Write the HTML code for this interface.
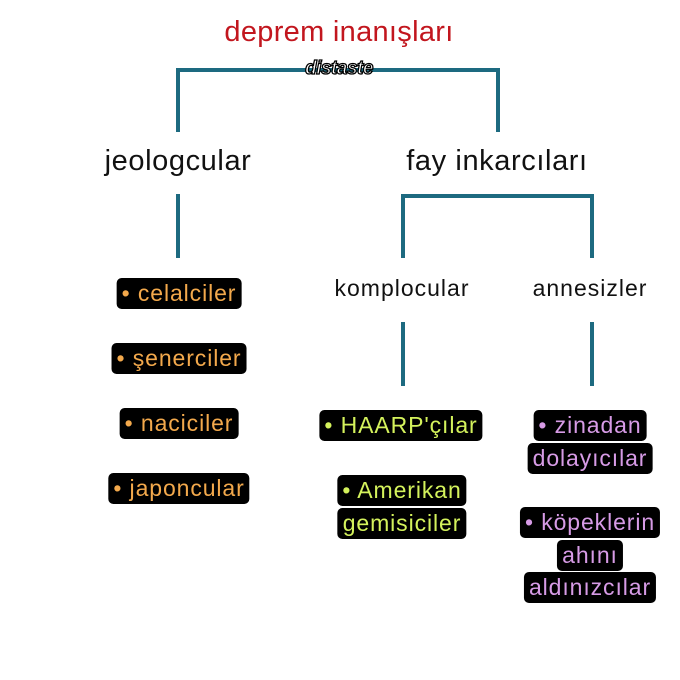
<!DOCTYPE html>
<html><head><meta charset="utf-8"><style>
html,body{margin:0;padding:0;background:#fff;}
body{width:680px;height:680px;position:relative;overflow:hidden;font-family:"Liberation Sans",sans-serif;}
.t{position:absolute;white-space:nowrap;transform:translateX(-50%);color:#111;}
.l{position:absolute;background:#1d6a80;}
.lab{position:absolute;transform:translateX(-50%);text-align:center;font-size:23px;letter-spacing:0.9px;}
.lab div{height:32.5px;}
.lab span{display:inline-block;background:#000;border-radius:5px;padding:0 5px;line-height:31px;height:31px;white-space:nowrap;}
.o span{color:#f3a94c}.g span{color:#d4f25c}.p span{color:#d79be6}
</style></head><body>
<div class="t" style="left:339px;top:16px;font-size:29px;letter-spacing:0.3px;color:#c2161e;">deprem inanışları</div>
<div class="l" style="left:176px;top:68px;width:324px;height:4px"></div>
<div class="l" style="left:176px;top:68px;width:4px;height:64px"></div>
<div class="l" style="left:496px;top:68px;width:4px;height:64px"></div>
<div class="t" style="left:339px;top:58px;font-size:19px;font-style:italic;font-weight:bold;color:#fff;-webkit-text-stroke:1.3px #000;letter-spacing:-0.5px;">distaste</div>
<div class="t" style="left:178px;top:145px;font-size:29px;letter-spacing:0.6px;">jeologcular</div>
<div class="t" style="left:497px;top:145px;font-size:29px;letter-spacing:0.6px;">fay inkarcıları</div>
<div class="l" style="left:176px;top:194px;width:4px;height:64px"></div>
<div class="l" style="left:401px;top:194px;width:193px;height:4px"></div>
<div class="l" style="left:401px;top:194px;width:4px;height:64px"></div>
<div class="l" style="left:590px;top:194px;width:4px;height:64px"></div>
<div class="t" style="left:402px;top:275px;font-size:23px;letter-spacing:1px;">komplocular</div>
<div class="t" style="left:590px;top:275px;font-size:23px;letter-spacing:1px;">annesizler</div>
<div class="l" style="left:401px;top:322px;width:4px;height:64px"></div>
<div class="l" style="left:590px;top:322px;width:4px;height:64px"></div>
<div class="lab o" style="left:179px;top:278px"><div><span>• celalciler</span></div></div>
<div class="lab o" style="left:179px;top:343px"><div><span>• şenerciler</span></div></div>
<div class="lab o" style="left:179px;top:408px"><div><span>• naciciler</span></div></div>
<div class="lab o" style="left:179px;top:473px"><div><span>• japoncular</span></div></div>
<div class="lab g" style="left:401px;top:410px"><div><span>• HAARP'çılar</span></div></div>
<div class="lab g" style="left:402px;top:475px"><div><span>• Amerikan</span></div><div><span>gemisiciler</span></div></div>
<div class="lab p" style="left:590px;top:410px"><div><span>• zinadan</span></div><div><span>dolayıcılar</span></div></div>
<div class="lab p" style="left:590px;top:507px"><div><span>• köpeklerin</span></div><div><span>ahını</span></div><div><span>aldınızcılar</span></div></div>
</body></html>
